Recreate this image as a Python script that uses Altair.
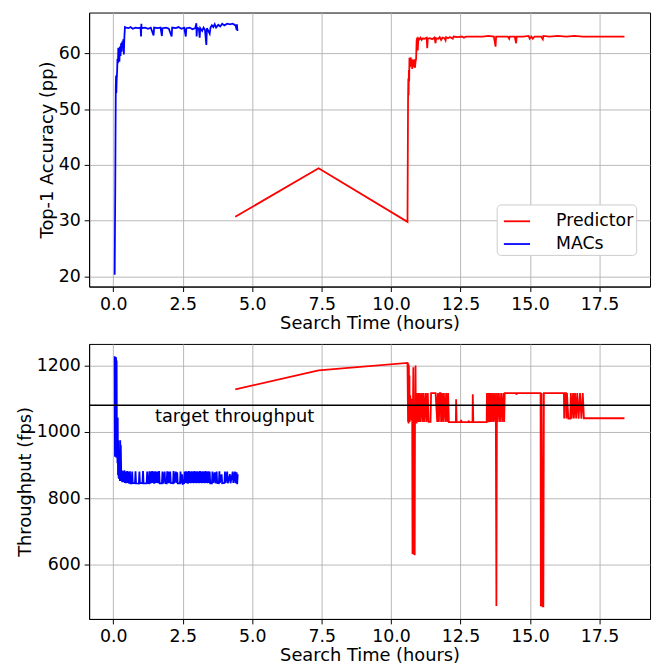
import altair as alt
import pandas as pd

# ---------------- data ----------------
x_ticks = [0.0, 2.5, 5.0, 7.5, 10.0, 12.5, 15.0, 17.5]
acc_ticks = [20, 30, 40, 50, 60]
thr_ticks = [600, 800, 1000, 1200]
series_names = ["Predictor", "MACs"]
series_colors = ["#ff0000", "#0000ff"]
target_throughput = 1080
target_label = "target throughput"
target_label_x = 1.5

# MACs: top-1 accuracy
macs_acc_t = [0.05, 0.07, 0.08, 0.09, 0.10, 0.11, 0.12, 0.14, 0.15, 0.17, 0.18, 0.20, 0.22, 0.24,
              0.26, 0.28, 0.30, 0.32, 0.34, 0.36, 0.38, 0.40, 0.42, 0.46, 0.55, 0.62, 0.70, 0.80,
              0.90, 0.98, 1.00, 1.01, 1.02, 1.15, 1.25, 1.35, 1.45, 1.47, 1.60, 1.70, 1.75, 1.77,
              1.90, 2.00, 2.10, 2.12, 2.25, 2.35, 2.45, 2.55, 2.61, 2.63, 2.75, 2.85, 2.95, 2.99,
              3.00, 3.02, 3.08, 3.11, 3.13, 3.20, 3.25, 3.30, 3.35, 3.37, 3.42, 3.47, 3.50, 3.55,
              3.60, 3.65, 3.70, 3.78, 3.85, 3.92, 4.00, 4.10, 4.20, 4.30, 4.40, 4.44, 4.45, 4.47]
macs_acc_v = [20.3, 35.0, 45.0, 54.0, 56.0, 52.9, 55.0, 57.0, 59.0, 58.2, 61.0, 60.0, 58.5, 61.2,
              59.5, 61.8, 60.3, 62.1, 61.0, 62.5, 59.8, 63.0, 64.7, 64.6, 64.5, 64.7, 64.4, 64.6,
              64.5, 64.6, 63.0, 65.3, 64.5, 64.6, 64.4, 64.6, 63.2, 64.6, 64.5, 64.6, 63.1, 64.5,
              64.6, 64.4, 63.0, 64.6, 64.5, 64.7, 64.4, 64.6, 63.0, 64.5, 64.6, 64.3, 64.5, 65.4,
              63.0, 64.6, 64.4, 62.8, 64.5, 64.0, 64.6, 64.2, 61.5, 64.5, 64.0, 63.5, 64.6, 65.0,
              64.7, 65.2, 64.6, 65.1, 64.8, 65.3, 65.0, 65.3, 65.2, 65.3, 65.0, 64.2, 65.2, 64.0]

# MACs: throughput
macs_thr_t = [0.05, 0.06, 0.07, 0.08, 0.09, 0.10, 0.11, 0.12, 0.13, 0.14, 0.15, 0.16, 0.17, 0.18,
              0.19, 0.20, 0.21, 0.22, 0.24, 0.25, 0.26, 0.27, 0.29, 0.30, 0.32, 0.33, 0.35, 0.36,
              0.38, 0.40, 0.42, 0.44, 0.46, 0.50, 0.52, 0.55, 0.57, 0.60, 0.62, 0.66, 0.68, 0.70,
              0.78, 0.80, 0.82, 0.92, 0.94, 0.96, 1.05, 1.07, 1.09, 1.20, 1.22, 1.24, 1.28, 1.30,
              1.32, 1.35, 1.37, 1.40, 1.42, 1.45, 1.47, 1.50, 1.52, 1.55, 1.57, 1.60, 1.62, 1.65,
              1.67, 1.75, 1.77, 1.79, 1.85, 1.87, 1.92, 1.94, 1.96, 2.00, 2.02, 2.05, 2.07, 2.15,
              2.17, 2.19, 2.25, 2.27, 2.30, 2.32, 2.40, 2.42, 2.44, 2.48, 2.50, 2.55, 2.57, 2.59,
              2.62, 2.64, 2.67, 2.69, 2.72, 2.74, 2.77, 2.79, 2.82, 2.84, 2.87, 2.89, 2.92, 2.94,
              2.97, 2.99, 3.02, 3.04, 3.07, 3.09, 3.12, 3.14, 3.17, 3.19, 3.22, 3.24, 3.27, 3.29,
              3.32, 3.34, 3.37, 3.39, 3.42, 3.44, 3.47, 3.49, 3.55, 3.57, 3.59, 3.65, 3.67, 3.72,
              3.74, 3.80, 3.82, 3.84, 3.90, 3.92, 4.00, 4.02, 4.04, 4.10, 4.12, 4.20, 4.22, 4.30,
              4.32, 4.38, 4.40, 4.44, 4.46, 4.48]
macs_thr_v = [1228, 925, 1226, 930, 1220, 1225, 922, 1215, 950, 1040, 905, 1043, 870, 975,
              862, 900, 858, 880, 852, 975, 866, 960, 852, 885, 848, 882, 850, 880,
              848, 884, 846, 880, 845, 882, 846, 880, 844, 881, 845, 845, 880, 846,
              845, 881, 845, 844, 880, 846, 845, 882, 845, 845, 880, 846, 845, 881,
              844, 880, 845, 882, 846, 880, 844, 881, 845, 880, 846, 880, 845, 882,
              845, 845, 880, 844, 880, 846, 845, 881, 845, 880, 845, 880, 846, 845,
              882, 845, 880, 846, 878, 845, 845, 880, 845, 872, 843, 845, 880, 846,
              881, 845, 880, 844, 882, 846, 880, 845, 881, 846, 880, 845, 882, 846,
              880, 845, 881, 846, 880, 845, 882, 846, 880, 845, 881, 846, 880, 845,
              882, 846, 880, 845, 881, 846, 880, 845, 845, 880, 846, 878, 845, 880,
              846, 845, 881, 846, 872, 845, 846, 880, 846, 880, 845, 872, 845, 880,
              846, 880, 845, 878, 842, 872]

# Predictor: top-1 accuracy
pred_acc_t = [4.39, 7.39, 10.59, 10.61, 10.62, 10.63, 10.64, 10.65, 10.66, 10.68, 10.70, 10.72,
              10.74, 10.76, 10.78, 10.80, 10.83, 10.86, 10.88, 10.90, 10.92, 10.94, 10.96, 10.98,
              11.02, 11.06, 11.10, 11.15, 11.20, 11.28, 11.30, 11.32, 11.40, 11.48, 11.56, 11.60,
              11.62, 11.70, 11.75, 11.80, 11.85, 11.92, 11.96, 11.98, 12.05, 12.12, 12.22, 12.25,
              12.40, 12.55, 12.62, 12.70, 12.90, 13.10, 13.30, 13.50, 13.70, 13.76, 13.78, 14.00,
              14.20, 14.25, 14.27, 14.45, 14.50, 14.52, 14.75, 14.95, 14.99, 15.05, 15.10, 15.16,
              15.40, 15.46, 15.48, 15.70, 16.00, 16.30, 16.60, 16.90, 17.20, 17.60, 18.00, 18.40]
pred_acc_v = [30.7, 39.4, 29.8, 51.6, 55.5, 52.5, 57.0, 55.0, 59.2, 57.5, 59.3, 57.8,
              59.0, 57.2, 58.8, 57.5, 58.9, 57.4, 58.5, 59.0, 62.3, 62.8, 60.5, 62.7,
              62.5, 62.8, 62.4, 62.7, 62.6, 62.8, 60.9, 62.6, 62.7, 62.5, 62.8, 61.8,
              62.7, 62.6, 62.9, 62.4, 62.8, 62.7, 62.3, 62.9, 62.7, 62.9, 62.6, 63.0,
              62.9, 63.0, 62.8, 63.0, 63.0, 63.0, 63.0, 63.1, 63.0, 61.2, 63.0, 63.0,
              63.0, 62.6, 63.0, 63.0, 61.8, 63.0, 63.0, 63.1, 62.6, 63.0, 62.6, 63.0,
              63.0, 62.5, 63.1, 63.0, 63.1, 63.0, 63.1, 63.0, 63.0, 63.0, 63.0, 63.0]

# Predictor: throughput
pred_thr_t = [4.39, 7.39, 10.59, 10.61, 10.62, 10.63, 10.64, 10.65, 10.66, 10.67, 10.69, 10.71,
              10.74, 10.76, 10.77, 10.78, 10.80, 10.81, 10.83, 10.85, 10.86, 10.88, 10.89, 10.90,
              10.92, 10.94, 10.96, 10.98, 11.00, 11.03, 11.05, 11.10, 11.13, 11.17, 11.20, 11.25,
              11.28, 11.32, 11.35, 11.42, 11.44, 11.60, 11.66, 11.68, 11.72, 11.75, 11.78, 11.80,
              11.83, 11.87, 11.90, 11.95, 11.98, 12.02, 12.05, 12.08, 12.33, 12.34, 12.36, 12.50,
              12.52, 12.54, 12.78, 12.79, 12.81, 12.93, 12.94, 12.96, 13.44, 13.45, 13.47, 13.50,
              13.52, 13.55, 13.57, 13.60, 13.63, 13.67, 13.70, 13.74, 13.77, 13.79, 13.81, 13.84,
              13.88, 13.92, 13.96, 14.00, 14.04, 14.07, 14.09, 14.50, 14.51, 14.53, 15.38, 15.39,
              15.42, 15.45, 15.48, 15.50, 16.22, 16.23, 16.25, 16.30, 16.31, 16.33, 16.38, 16.45,
              16.47, 16.50, 16.55, 16.58, 16.62, 16.66, 16.70, 16.75, 16.80, 16.85, 16.90, 16.94,
              18.40]
pred_thr_v = [1128, 1185, 1208, 1030, 1206, 1025, 1200, 1040, 1170, 1030, 1110, 1035,
              1100, 1030, 632, 1000, 1195, 630, 1050, 628, 1030, 1200, 1030, 1100,
              1025, 1117, 1030, 1117, 1030, 1117, 1030, 1117, 1030, 1117, 1030, 1117,
              1030, 1117, 1030, 1030, 1117, 1117, 1030, 1117, 1030, 1117, 1117, 1030,
              1117, 1030, 1117, 1030, 1117, 1030, 1117, 1029, 1029, 1098, 1029, 1029,
              1036, 1029, 1029, 1034, 1029, 1029, 1113, 1029, 1029, 1117, 1029, 1117,
              1029, 1117, 1030, 1117, 1030, 1117, 1030, 1117, 1030, 475, 1117, 1030,
              1117, 1030, 1117, 1030, 1117, 1030, 1117, 1117, 1112, 1117, 1117, 474,
              1117, 474, 474, 1117, 1117, 1040, 1117, 1117, 1040, 1117, 1040, 1040,
              1117, 1040, 1117, 1040, 1117, 1040, 1117, 1040, 1117, 1040, 1117, 1041,
              1041]


def frame(ts, vs, name):
    return pd.DataFrame({"t": ts, "v": vs, "series": name, "i": list(range(len(ts)))})


acc_df = pd.concat([frame(pred_acc_t, pred_acc_v, "Predictor"),
                    frame(macs_acc_t, macs_acc_v, "MACs")], ignore_index=True)
thr_df = pd.concat([frame(pred_thr_t, pred_thr_v, "Predictor"),
                    frame(macs_thr_t, macs_thr_v, "MACs")], ignore_index=True)

FONT = "DejaVu Sans"
LFS = 17.5   # tick labels
TFS = 18     # axis titles
W = 567
LW = 1.8

x_scale = alt.Scale(domain=[-0.87, 19.32], nice=False, zero=False)
x_axis = alt.Axis(values=x_ticks, format=".1f", title="Search Time (hours)")

color_scale = alt.Scale(domain=series_names, range=series_colors)

top_lines = alt.Chart(acc_df).mark_line(strokeWidth=LW, clip=True).encode(
    x=alt.X("t:Q", scale=x_scale, axis=x_axis),
    y=alt.Y("v:Q", scale=alt.Scale(domain=[18.2, 67.3], nice=False, zero=False),
            axis=alt.Axis(values=acc_ticks, format="d", title="Top-1 Accuracy (pp)")),
    color=alt.Color("series:N", scale=color_scale,
                    legend=alt.Legend(title=None, orient="none", legendX=412, legendY=194,
                                      symbolType="stroke", symbolStrokeWidth=LW,
                                      symbolSize=700, symbolOffset=3.5,
                                      labelFont=FONT, labelFontSize=17.5,
                                      labelExpr="datum.label + '\u00a0'",
                                      labelOffset=25, padding=2.5, fillColor="white",
                                      strokeColor="#cccccc", cornerRadius=4,
                                      rowPadding=0)),
    detail="series:N",
    order=alt.Order("i:Q"),
)

top = alt.layer(top_lines).properties(width=W, height=277)

bot_lines = alt.Chart(thr_df).mark_line(strokeWidth=LW, clip=True).encode(
    x=alt.X("t:Q", scale=x_scale, axis=x_axis),
    y=alt.Y("v:Q", scale=alt.Scale(domain=[436, 1265], nice=False, zero=False),
            axis=alt.Axis(values=thr_ticks, format="d", title="Throughput (fps)")),
    color=alt.Color("series:N", scale=color_scale, legend=None),
    detail="series:N",
    order=alt.Order("i:Q"),
)

target_rule = alt.Chart(pd.DataFrame({"y": [target_throughput]})).mark_rule(
    color="black", strokeWidth=1.5).encode(y="y:Q")

target_text = alt.Chart(pd.DataFrame({"x": [target_label_x], "y": [target_throughput],
                                      "label": [target_label]})).mark_text(
    align="left", baseline="top", dy=3, font=FONT, fontSize=TFS, color="black").encode(
    x="x:Q", y="y:Q", text="label:N")

bottom = alt.layer(bot_lines, target_rule, target_text).properties(width=W, height=278)

chart = alt.vconcat(top, bottom, spacing=10).resolve_scale(
    color="independent").resolve_legend(color="independent").properties(
    padding={"left": 7, "top": 0, "right": 0, "bottom": 0}
).configure_axis(
    labelFont=FONT, titleFont=FONT, labelFontSize=LFS, titleFontSize=TFS,
    labelColor="black", titleColor="black", titleFontWeight="normal",
    domainColor="black", domainWidth=1, tickColor="black", tickSize=5, tickWidth=1,
    gridColor="#b0b0b0", gridWidth=0.9, labelPadding=4, titlePadding=2,
).configure_view(stroke="black", strokeWidth=1).configure_legend(
    labelColor="black"
)

chart.save("out.html", embed_options={"renderer": "svg", "actions": False})
